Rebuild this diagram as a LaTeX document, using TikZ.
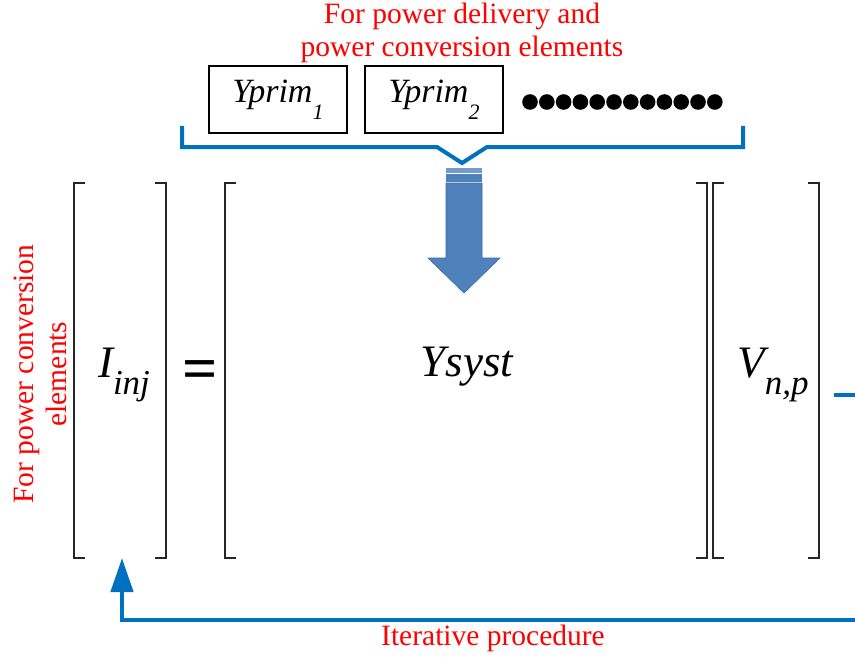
\documentclass[tikz,border=0pt]{standalone}
\usepackage{fontspec}
\setmainfont{Liberation Serif}[ItalicFont={Liberation Serif Italic}]
\usetikzlibrary{arrows.meta}
\definecolor{loopblue}{HTML}{0070C0}
\definecolor{fatblue}{HTML}{4F81BD}
\definecolor{fatedge}{HTML}{3B6A9F}
\newcommand{\lowidx}[3][0.36em]{\raisebox{-#1}{\fontsize{#2}{#2}\selectfont #3}}
\tikzset{
  note/.style={text=red, font=\fontsize{29.5}{33}\selectfont, align=center, inner sep=0pt},
  primbox/.style={draw, line width=1.2pt, minimum width=138pt, minimum height=67pt, inner sep=0pt,
    font=\fontsize{34}{34}\selectfont\itshape},
  eqtext/.style={font=\fontsize{45}{45}\selectfont\itshape, inner sep=0pt},
  bracket/.style={draw=black!85, line width=1.3pt},
  loopline/.style={draw=loopblue, line width=4.5pt},
}
\begin{document}
\begin{tikzpicture}[x=1pt,y=-1pt]
  \useasboundingbox (0,0) rectangle (855,661);
  % top note and element matrices
  \node[note] (topnote) at (462,33) {For power delivery and\\power conversion elements};
  \node[primbox] (prim1) at (278,99.5) {Yprim\lowidx[0.5em]{22}{1}};
  \node[primbox] (prim2) at (434,99.5) {Yprim\lowidx[0.5em]{22}{2}};
  \foreach \k in {0,...,11}
    \fill (530+16.8*\k,102) circle (7.8pt);
  \draw[draw=loopblue, line width=4pt] (182,126) -- (182,147) -- (437,147) -- (462,163)
    -- (487,147) -- (743,147) -- (743,126);
  % fat arrow
  \fill[fatblue!80!white] (446,168) rectangle (482,173);
  \fill[fatblue] (446,174) rectangle (482,182);
  \filldraw[fill=fatblue, draw=fatedge, line width=0.6pt] (446,183) -- (482,183) -- (482,258)
    -- (500,258) -- (464,293) -- (428,258) -- (446,258) -- cycle;
  % matrix equation
  \foreach \x in {74,225,713}
    \draw[bracket] (\x+11,183) -| (\x,558) -- (\x+11,558);
  \foreach \x in {166,707,819}
    \draw[bracket] (\x-11,183) -| (\x,558) -- (\x-11,558);
  \node[eqtext] (Iinj) at (124,375) {I\lowidx{35}{inj}};
  \node[font=\fontsize{62}{62}\selectfont\bfseries, inner sep=0pt] (eq) at (200,375) {=};
  \node[eqtext] (Ysyst) at (467,367) {Ysyst};
  \node[eqtext] (Vnp) at (773,375) {V\lowidx{35}{n,p}};
  \node[note, rotate=90] (sidenote) at (40,374) {For power conversion\\elements};
  % iterative loop
  \coordinate (vout) at (834,395);
  \coordinate (edgetop) at (855,395);
  \coordinate (edgebot) at (855,620);
  \coordinate (iin) at (122,558);
  \draw[loopline] (vout) -- (edgetop);
  \draw[loopline, -{Triangle[width=22pt,length=34pt]}] (edgebot) -| (iin);
  \node[note] (iternote) at (493,638) {Iterative procedure};
\end{tikzpicture}
\end{document}
